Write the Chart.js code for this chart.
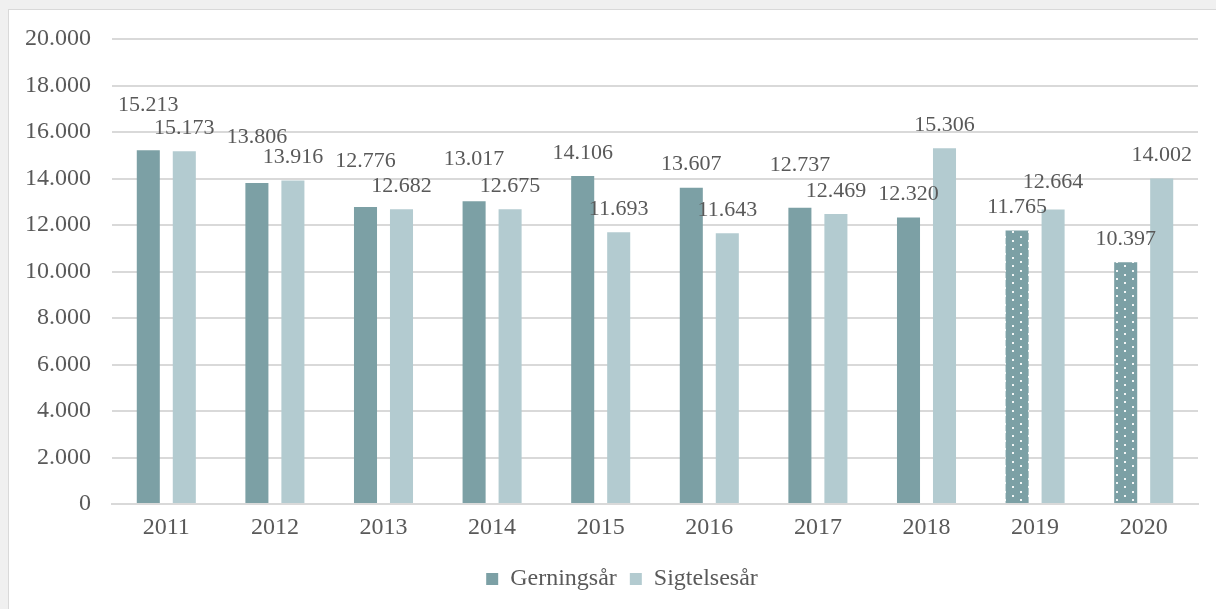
<!DOCTYPE html>
<html lang="da">
<head>
    <meta charset="UTF-8">
    <title>Gerningsår og sigtelsesår</title>
    <style>
        html, body {
            margin: 0;
            padding: 0;
            width: 1216px;
            height: 609px;
            overflow: hidden;
            background-color: #f0f0f0;
        }

        .frame {
            position: absolute;
            left: 8px;
            top: 9px;
            width: 1230px;
            height: 620px;
            background-color: #fff;
            border: 1px solid #d9d9d9;
        }

        .chart-box {
            position: absolute;
            left: 0;
            top: 0;
            width: 1216px;
            height: 609px;
        }
    </style>
</head>
<body>
    <div class="frame"></div>
    <div class="chart-box">
        <canvas id="crimeChart" width="1216" height="609"></canvas>
    </div>
    <script src="https://cdn.jsdelivr.net/npm/chart.js"></script>
    <script>
        // Values
        const years = ['2011', '2012', '2013', '2014', '2015', '2016', '2017', '2018', '2019', '2020'];
        const gerningsaar = [15213, 13806, 12776, 13017, 14106, 13607, 12737, 12320, 11765, 10397];
        const sigtelsesaar = [15173, 13916, 12682, 12675, 11693, 11643, 12469, 15306, 12664, 14002];
        const yTicks = [0, 2000, 4000, 6000, 8000, 10000, 12000, 14000, 16000, 18000, 20000];

        const darkColor = '#7ca0a5';
        const lightColor = '#b3cbd0';
        const textColor = '#595959';
        const fontFamily = '"Liberation Serif", "Times New Roman", serif';

        // thousands separator as a dot, Danish style
        function fmt(v) {
            return String(v).replace(/\B(?=(\d{3})+(?!\d))/g, '.');
        }

        // dotted fill used for the last two (preliminary) years
        function makeDots() {
            const tile = document.createElement('canvas');
            tile.width = 16;
            tile.height = 17;
            const c = tile.getContext('2d');
            c.fillStyle = darkColor;
            c.fillRect(0, 0, 16, 17);
            c.fillStyle = 'rgba(255,255,255,0.9)';
            c.fillRect(4, 2, 2, 2);
            c.fillRect(12, 6, 2, 2);
            c.fillRect(4, 10, 2, 2);
            c.fillRect(12, 15, 2, 2);
            return c.createPattern(tile, 'repeat');
        }
        const dots = makeDots();
        const darkFills = years.map((y, i) => i >= 8 ? dots : darkColor);

        // value labels above the bars, some lifted like in the original
        const barLabels = {
            id: 'barLabels',
            afterDatasetsDraw(chart, args, opts) {
                const ctx = chart.ctx;
                ctx.save();
                ctx.font = '22px ' + fontFamily;
                ctx.fillStyle = textColor;
                ctx.textAlign = 'center';
                ctx.textBaseline = 'middle';
                chart.data.datasets.forEach((ds, di) => {
                    const meta = chart.getDatasetMeta(di);
                    const lift = opts.lift[di];
                    meta.data.forEach((bar, i) => {
                        ctx.fillText(fmt(ds.data[i]), bar.x, bar.y - opts.offset - lift[i]);
                    });
                });
                ctx.restore();
            }
        };

        // the legend sits a bit right of the canvas centre in the original
        const legendShift = {
            id: 'legendShift',
            afterLayout(chart, args, opts) {
                chart.legend.left += opts.dx;
                chart.legend.right += opts.dx;
            }
        };

        const ctx = document.getElementById('crimeChart').getContext('2d');
        const crimeChart = new Chart(ctx, {
            type: 'bar',
            data: {
                labels: years,
                datasets: [
                    {
                        label: 'Gerningsår',
                        data: gerningsaar,
                        backgroundColor: darkFills,
                        categoryPercentage: 0.663,
                        barPercentage: 0.64,
                    },
                    {
                        label: 'Sigtelsesår',
                        data: sigtelsesaar,
                        backgroundColor: lightColor,
                        categoryPercentage: 0.663,
                        barPercentage: 0.64,
                    }
                ],
            },
            options: {
                responsive: false,
                animation: false,
                devicePixelRatio: 1,
                layout: {
                    padding: { left: 0, right: 18, top: 39, bottom: 8 },
                },
                plugins: {
                    legend: {
                        display: true,
                        position: 'bottom',
                        labels: {
                            color: textColor,
                            font: { family: fontFamily, size: 24 },
                            boxWidth: 12,
                            boxHeight: 12,
                            padding: 13,
                            generateLabels(chart) {
                                return chart.data.datasets.map((ds, i) => ({
                                    text: ds.label,
                                    fillStyle: i === 0 ? darkColor : lightColor,
                                    strokeStyle: 'transparent',
                                    lineWidth: 0,
                                    fontColor: textColor,
                                    datasetIndex: i,
                                }));
                            },
                        },
                    },
                    tooltip: { enabled: false },
                    barLabels: {
                        offset: 23,
                        lift: [
                            [22, 22.7, 22.8, 19, 0, 0, 20, 0, 0, 0],
                            [0, 0, 0, 0, 0, 0, 0, 0, 4.4, 0],
                        ],
                    },
                    legendShift: { dx: 23 },
                },
                scales: {
                    x: {
                        grid: { display: false },
                        border: { display: true, color: '#d9d9d9', width: 2 },
                        ticks: {
                            color: textColor,
                            font: { family: fontFamily, size: 24 },
                            padding: 1,
                            maxRotation: 0,
                        },
                        afterFit(scale) {
                            scale.height = 50;
                        },
                    },
                    y: {
                        min: 0,
                        max: 20000,
                        afterBuildTicks(scale) {
                            scale.ticks = yTicks.map(v => ({ value: v }));
                        },
                        grid: {
                            color: '#d9d9d9',
                            lineWidth: 2,
                            drawTicks: false,
                        },
                        border: { display: false },
                        ticks: {
                            color: textColor,
                            font: { family: fontFamily, size: 24 },
                            padding: 21,
                            callback: v => fmt(v),
                        },
                        afterFit(scale) {
                            scale.width = 112;
                        },
                    },
                },
            },
            plugins: [barLabels, legendShift],
        });
    </script>
</body>
</html>
